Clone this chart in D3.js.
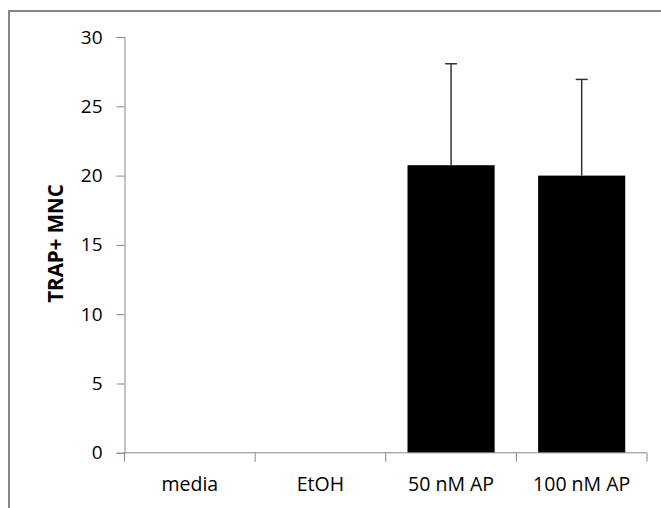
<!DOCTYPE html>
<html>
<head>
<meta charset="utf-8">
<script src="https://cdn.jsdelivr.net/npm/d3@7"></script>
<style>
  body { margin: 0; background: #fff; }
  text { font-family: 'Open Sans', sans-serif; }
</style>
</head>
<body>
<div id="chart"></div>
<script>
// chart data
const categories = ['media', 'EtOH', '50 nM AP', '100 nM AP']
const means = [0, 0, 20.75, 20.0]
const errors = [0, 0, 7.32, 6.94]
const yTicks = [0, 5, 10, 15, 20, 25, 30]

const width = 661
const height = 508
const margin = { top: 37, right: 14, bottom: 55, left: 124.5 }

const svg = d3.select('#chart')
  .append('svg')
  .attr('width', width)
  .attr('height', height)

// outer frame
svg.append('rect')
  .attr('x', 9)
  .attr('y', 11)
  .attr('width', width + 10)
  .attr('height', height + 10)
  .attr('fill', 'none')
  .attr('stroke', '#868686')
  .attr('stroke-width', 2)

const x = d3.scaleBand()
  .domain(categories)
  .range([margin.left, width - margin.right])
  .paddingInner(0.333)
  .paddingOuter(0.1665)

const y = d3.scaleLinear()
  .domain([0, 30])
  .range([height - margin.bottom - 0.2, margin.top])

const data = categories.map((c, i) => ({ cat: c, mean: means[i], err: errors[i] }))

// bars
svg.selectAll('rect.bar')
  .data(data.filter(d => d.mean > 0))
  .enter().append('rect')
  .attr('class', 'bar')
  .attr('x', d => x(d.cat))
  .attr('y', d => y(d.mean))
  .attr('width', x.bandwidth())
  .attr('height', d => y(0) - y(d.mean))
  .attr('fill', '#000')

// error bars (upper only)
const eb = svg.selectAll('g.err')
  .data(data.filter(d => d.err > 0))
  .enter().append('g')
  .attr('class', 'err')
  .attr('stroke', '#333')
  .attr('stroke-width', 1.5)

eb.append('line')
  .attr('x1', d => x(d.cat) + x.bandwidth() / 2)
  .attr('x2', d => x(d.cat) + x.bandwidth() / 2)
  .attr('y1', d => y(d.mean))
  .attr('y2', d => y(d.mean + d.err))

eb.append('line')
  .attr('x1', d => x(d.cat) + x.bandwidth() / 2 - 6)
  .attr('x2', d => x(d.cat) + x.bandwidth() / 2 + 6)
  .attr('y1', d => y(d.mean + d.err))
  .attr('y2', d => y(d.mean + d.err))

// y axis
const yAxis = svg.append('g')
  .attr('transform', 'translate(' + margin.left + ',0)')
  .call(d3.axisLeft(y).tickValues(yTicks).tickSize(8).tickPadding(14))
yAxis.select('.domain').attr('stroke', '#868686')
yAxis.selectAll('.tick line').attr('stroke', '#868686')
yAxis.selectAll('.tick text')
  .attr('fill', '#000')
  .style('font-size', '19px')

// x axis with ticks at band edges
const xAxisY = y(0)
const xg = svg.append('g')
xg.append('line')
  .attr('x1', margin.left)
  .attr('x2', width - margin.right)
  .attr('y1', xAxisY)
  .attr('y2', xAxisY)
  .attr('stroke', '#868686')
const step = x.step()
const edges = d3.range(categories.length + 1).map(i => margin.left + i * step)
xg.selectAll('line.edge')
  .data(edges)
  .enter().append('line')
  .attr('class', 'edge')
  .attr('x1', d => d)
  .attr('x2', d => d)
  .attr('y1', xAxisY)
  .attr('y2', xAxisY + 9)
  .attr('stroke', '#868686')
xg.selectAll('text')
  .data(categories)
  .enter().append('text')
  .attr('x', d => x(d) + x.bandwidth() / 2)
  .attr('y', xAxisY + 38.5)
  .attr('text-anchor', 'middle')
  .style('font-size', '19.5px')
  .text(d => d)

// y title
svg.append('text')
  .attr('transform', 'translate(63,' + y(15.1) + ') rotate(-90)')
  .attr('text-anchor', 'middle')
  .style('font-size', '20.5px')
  .style('font-weight', 'bold')
  .text('TRAP+ MNC')
</script>
</body>
</html>
